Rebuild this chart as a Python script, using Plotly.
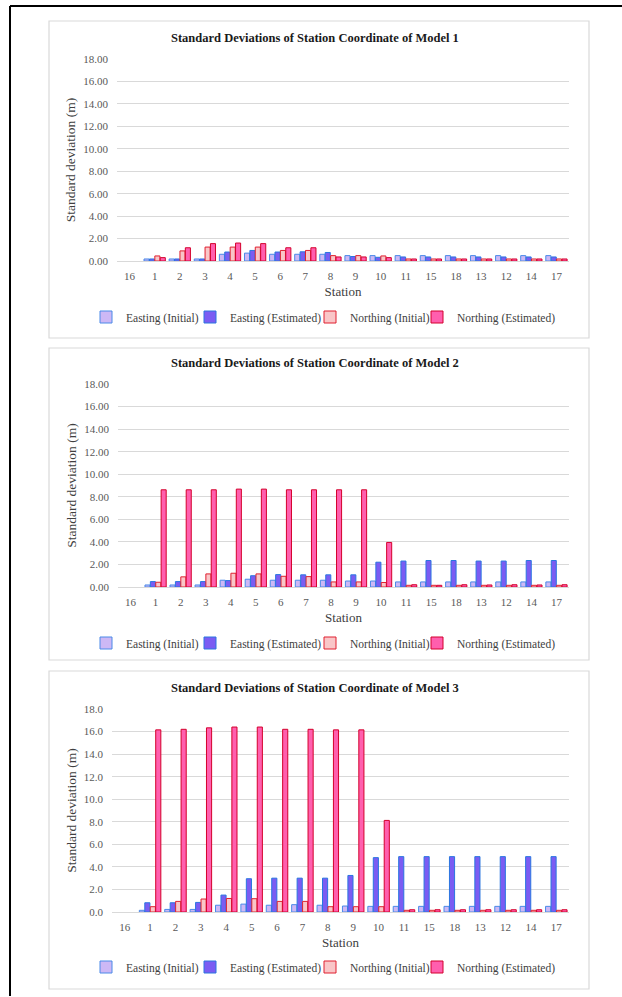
import plotly.graph_objects as go

W, H = 622, 997

stations = ["16", "1", "2", "3", "4", "5", "6", "7", "8", "9", "10", "11", "15", "18", "13", "12", "14", "17"]
series_names = ["Easting (Initial)", "Easting (Estimated)", "Northing (Initial)", "Northing (Estimated)"]

# Model 1
m1_e_init = [0, 0.18, 0.18, 0.18, 0.60, 0.70, 0.60, 0.60, 0.60, 0.48, 0.48, 0.48, 0.48, 0.48, 0.48, 0.48, 0.48, 0.48]
m1_e_est = [0, 0.18, 0.18, 0.18, 0.80, 0.94, 0.80, 0.82, 0.76, 0.40, 0.33, 0.36, 0.36, 0.36, 0.36, 0.36, 0.36, 0.36]
m1_n_init = [0, 0.45, 0.90, 1.24, 1.24, 1.24, 0.94, 0.94, 0.48, 0.48, 0.45, 0.18, 0.18, 0.18, 0.18, 0.18, 0.18, 0.18]
m1_n_est = [0, 0.30, 1.18, 1.55, 1.60, 1.55, 1.18, 1.18, 0.36, 0.36, 0.30, 0.18, 0.18, 0.18, 0.18, 0.18, 0.18, 0.18]

# Model 2
m2_e_init = [0, 0.18, 0.18, 0.18, 0.60, 0.69, 0.60, 0.60, 0.60, 0.53, 0.53, 0.45, 0.45, 0.45, 0.45, 0.45, 0.45, 0.45]
m2_e_est = [0, 0.48, 0.48, 0.48, 0.57, 1.00, 1.10, 1.08, 1.08, 1.08, 2.20, 2.30, 2.35, 2.35, 2.30, 2.30, 2.35, 2.35]
m2_n_init = [0, 0.42, 0.90, 1.16, 1.22, 1.16, 0.95, 0.92, 0.45, 0.45, 0.40, 0.15, 0.15, 0.15, 0.15, 0.15, 0.15, 0.15]
m2_n_est = [0, 8.62, 8.62, 8.62, 8.68, 8.68, 8.62, 8.62, 8.62, 8.62, 3.95, 0.20, 0.15, 0.20, 0.18, 0.20, 0.18, 0.20]

# Model 3
m3_e_init = [0, 0.15, 0.23, 0.23, 0.60, 0.70, 0.60, 0.65, 0.60, 0.53, 0.50, 0.50, 0.50, 0.50, 0.50, 0.50, 0.50, 0.50]
m3_e_est = [0, 0.82, 0.82, 0.85, 1.50, 2.95, 3.00, 3.00, 3.00, 3.24, 4.82, 4.91, 4.91, 4.91, 4.91, 4.91, 4.91, 4.91]
m3_n_init = [0, 0.47, 0.94, 1.15, 1.20, 1.18, 0.94, 0.94, 0.47, 0.47, 0.47, 0.15, 0.15, 0.15, 0.15, 0.15, 0.15, 0.15]
m3_n_est = [0, 16.15, 16.2, 16.33, 16.4, 16.4, 16.2, 16.2, 16.15, 16.15, 8.12, 0.20, 0.20, 0.20, 0.20, 0.20, 0.20, 0.20]

models = [
    ("Standard Deviations of Station Coordinate of Model 1", [m1_e_init, m1_e_est, m1_n_init, m1_n_est], ".2f"),
    ("Standard Deviations of Station Coordinate of Model 2", [m2_e_init, m2_e_est, m2_n_init, m2_n_est], ".2f"),
    ("Standard Deviations of Station Coordinate of Model 3", [m3_e_init, m3_e_est, m3_n_init, m3_n_est], ".1f"),
]

fills = ["#cdb8f5", "#7b5cf2", "#f9c6c8", "#ff5fae"]
edges = ["#4a8ae8", "#2a76e0", "#e02030", "#d4002c"]

# layout geometry in pixels
plot_x = [(117, 569), (118, 569), (112, 569)]
plot_y = [(59, 261), (384, 587), (709, 912)]
title_y = [38, 363, 688]
legend_y = [317, 643, 967]
legend_text_x = [126, 230, 350, 457]
panel_box = [(49, 21, 589, 338), (49, 348, 589, 660), (49, 671, 589, 989)]

SERIF = "Liberation Serif"

def fx(px):
    return px / W

def fy(py):
    return 1 - py / H

fig = go.Figure()
layout = dict(
    width=W, height=H,
    margin=dict(l=0, r=0, t=0, b=0, autoexpand=False),
    paper_bgcolor="white", plot_bgcolor="white",
    barmode="group", bargap=0.14, bargroupgap=0.06,
    font=dict(family=SERIF, color="#404040"),
    showlegend=True,
)
annotations = []
shapes = []

for i, (title, vals, fmt) in enumerate(models):
    n = i + 1
    xa = "x" if n == 1 else f"x{n}"
    ya = "y" if n == 1 else f"y{n}"
    for k in range(4):
        li = i * 4 + k + 1
        leg = "legend" if li == 1 else f"legend{li}"
        # list non-zero bars first so the legend swatch keeps its outline;
        # the axis order is fixed by categoryarray below
        order = sorted(range(len(stations)), key=lambda j: vals[k][j] == 0)
        xs = [stations[j] for j in order]
        ys = [vals[k][j] for j in order]
        line_w = [1 if v > 0 else 0 for v in ys]
        fig.add_trace(go.Bar(
            x=xs, y=ys, name=series_names[k],
            marker=dict(color=fills[k], line=dict(color=edges[k], width=line_w)),
            xaxis=xa, yaxis=ya, legend=leg,
        ))
        layout[leg] = dict(
            orientation="h", x=fx(legend_text_x[k] - 40), xanchor="left",
            y=fy(legend_y[i]), yanchor="middle",
            font=dict(family=SERIF, size=11.5, color="#404040"),
            bgcolor="rgba(0,0,0,0)", itemwidth=30, borderwidth=0,
            itemclick=False, itemdoubleclick=False,
        )
    xkey = "xaxis" if n == 1 else f"xaxis{n}"
    ykey = "yaxis" if n == 1 else f"yaxis{n}"
    layout[xkey] = dict(
        domain=[fx(plot_x[i][0]), fx(plot_x[i][1])], anchor=ya, type="category",
        categoryorder="array", categoryarray=stations,
        showgrid=False, showline=False, ticks="", automargin=False, ticklabelstandoff=7,
        tickfont=dict(family=SERIF, size=11, color="#595959"),
        title=dict(text="Station", font=dict(family=SERIF, size=13, color="#404040"), standoff=5),
    )
    layout[ykey] = dict(
        domain=[fy(plot_y[i][1]), fy(plot_y[i][0])], anchor=xa,
        range=[0, 18], tickvals=list(range(0, 19, 2)), tickformat=fmt,
        showgrid=True, gridcolor="#d9d9d9", gridwidth=1,
        zeroline=True, zerolinecolor="#d9d9d9", zerolinewidth=1,
        showline=False, ticks="", automargin=False, ticklabelstandoff=8,
        tickfont=dict(family=SERIF, size=11, color="#595959"),
        title=dict(text="Standard deviation (m)", font=dict(family=SERIF, size=13.5, color="#404040"), standoff=4),
    )
    annotations.append(dict(
        text=f"<b>{title}</b>", x=fx(315), y=fy(title_y[i]), xref="paper", yref="paper",
        showarrow=False, xanchor="center", yanchor="middle",
        font=dict(family=SERIF, size=12.5, color="#1a1a1a"),
    ))
    x0, y0, x1, y1 = panel_box[i]
    shapes.append(dict(type="rect", xref="paper", yref="paper",
                       x0=fx(x0), x1=fx(x1), y0=fy(y1), y1=fy(y0),
                       line=dict(color="#d9d9d9", width=1.2), fillcolor="rgba(0,0,0,0)", layer="below"))

# outer black frame
shapes.append(dict(type="line", xref="paper", yref="paper", x0=fx(10), x1=fx(10), y0=fy(996), y1=fy(6),
                   line=dict(color="black", width=2)))
shapes.append(dict(type="line", xref="paper", yref="paper", x0=fx(10), x1=1, y0=fy(6), y1=fy(6),
                   line=dict(color="black", width=2)))

layout["annotations"] = annotations
layout["shapes"] = shapes
fig.update_layout(**layout)

fig.write_html("out.html", config={"displayModeBar": False},
               post_script="document.body.style.margin='0px';document.body.style.padding='0px';")
